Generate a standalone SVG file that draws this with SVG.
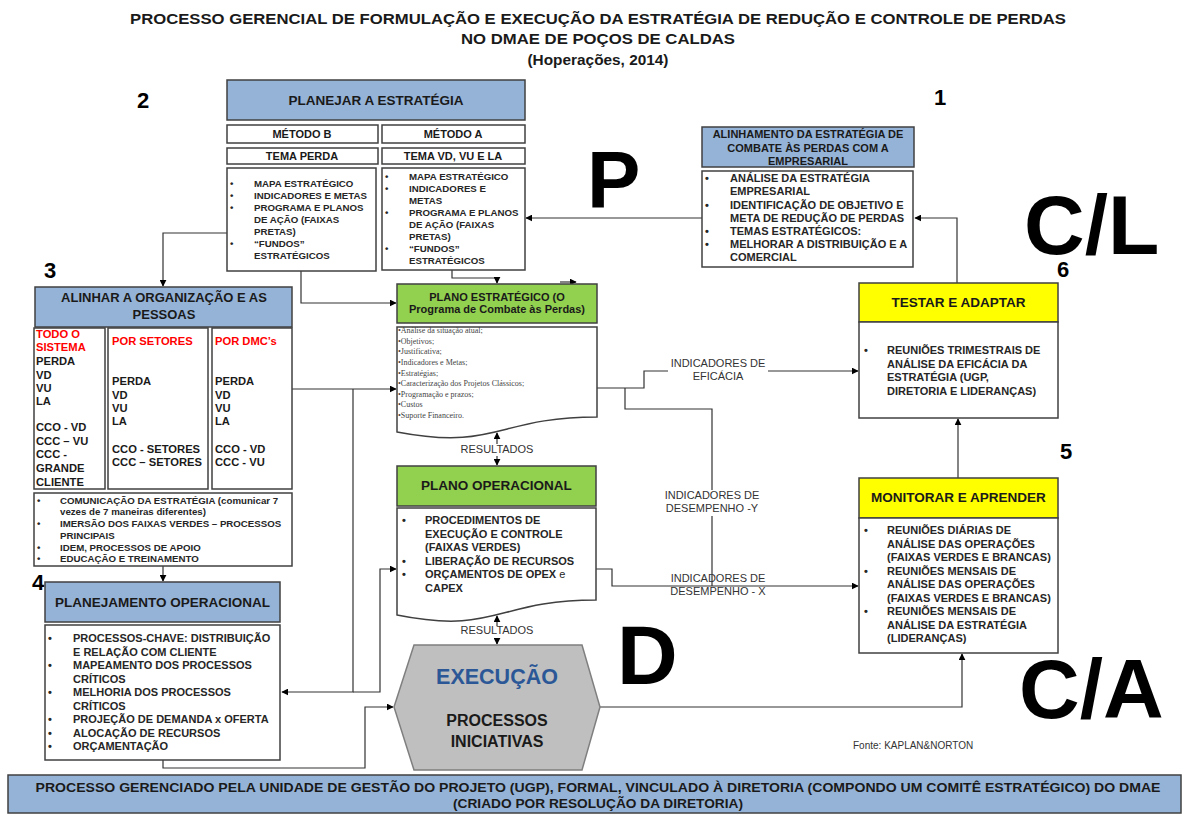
<svg xmlns="http://www.w3.org/2000/svg" width="1189" height="814" viewBox="0 0 1189 814">
<style>
.bg{fill:#ffffff}
.box{fill:#ffffff;stroke:#404040;stroke-width:1.5}
.blue{fill:#95B3D7;stroke:#404040;stroke-width:1.5}
.green{fill:#92D050;stroke:#404040;stroke-width:1.5}
.yellow{fill:#FFFF00;stroke:#404040;stroke-width:1.5}
.hex{fill:#BFBFBF;stroke:#7F7F7F;stroke-width:1.5}
text{font-family:"Liberation Sans",Arial,sans-serif}
.t{font-weight:bold;fill:#1a1a1a}
.c{text-anchor:middle}
.li{font-weight:bold;font-size:11px;fill:#262626}
.sm{font-weight:bold;font-size:9.7px;fill:#262626}
.red{fill:#FF0000}
.doc text{font-family:"Liberation Serif","Times New Roman",serif;font-size:8px;fill:#444}
.lab{font-size:11px;fill:#333;text-anchor:middle}
.big{font-weight:bold;fill:#000}
.num{font-weight:bold;font-size:22px;fill:#000;text-anchor:middle}
.conn{fill:none;stroke:#333;stroke-width:1.2}
.arr{marker-end:url(#ah)}
</style>
<defs>
<marker id="ah" viewBox="0 0 10 10" refX="9" refY="5" markerWidth="7" markerHeight="7" orient="auto" markerUnits="userSpaceOnUse">
<path d="M0,0 L10,5 L0,10 Z" fill="#000"/>
</marker>
</defs>
<rect class="bg" x="0" y="0" width="1189" height="814"/>

<g id="title">
<text class="t c" x="598" y="23.5" font-size="15" textLength="936" lengthAdjust="spacingAndGlyphs">PROCESSO GERENCIAL DE FORMULAÇÃO E EXECUÇÃO DA ESTRATÉGIA DE REDUÇÃO E CONTROLE DE PERDAS</text>
<text class="t c" x="598" y="44" font-size="15" textLength="274" lengthAdjust="spacingAndGlyphs">NO DMAE DE POÇOS DE CALDAS</text>
<text class="t c" x="598" y="64.5" font-size="15" textLength="141" lengthAdjust="spacingAndGlyphs">(Hoperações, 2014)</text>
</g>

<g id="numbers">
<text class="num" x="143" y="108">2</text>
<text class="num" x="940" y="105">1</text>
<text class="num" x="50" y="278">3</text>
<text class="num" x="38" y="590">4</text>
<text class="num" x="1066" y="459">5</text>
<text class="num" x="1063" y="277">6</text>
</g>

<g id="phases">
<text class="big" x="587" y="207" font-size="80">P</text>
<text class="big" x="1024" y="254" font-size="84">C/L</text>
<text class="big" x="617" y="684" font-size="84">D</text>
<text class="big" x="1019" y="718" font-size="84">C/A</text>
</g>

<g id="connectors">
<path class="conn arr" d="M702,218 H526"/>
<path class="conn arr" d="M957,283 V218 H915"/>
<path class="conn arr" d="M227,233 H163 V286"/>
<path class="conn arr" d="M301,271 V303 H396"/>
<path class="conn arr" d="M452,270 V278 H497 V283"/>
<path class="conn arr" d="M560,282 H576"/>
<path class="conn arr" d="M292,389 H396"/>
<path class="conn arr" d="M353,389 V692 H282"/>
<path class="conn arr" d="M353,692 H380 V569 H396"/>
<path class="conn arr" d="M163,760 V768 H365 V707 H393"/>
<path class="conn arr" d="M163,566 V581"/>
<path class="conn arr" d="M497,444 V433"/>
<path class="conn arr" d="M497,456 V465"/>
<path class="conn arr" d="M497,626 V616"/>
<path class="conn arr" d="M497,638 V644"/>
<path class="conn" d="M597,388 H644 V371 H668"/>
<path class="conn arr" d="M768,371 H858"/>
<path class="conn" d="M625,388 V409 H712 V490"/>
<path class="conn" d="M712,516 V586"/>
<path class="conn arr" d="M596,569 H612 V586 H858"/>
<path class="conn arr" d="M958,478 V419"/>
<path class="conn arr" d="M600,707 H962 V654"/>
<text class="lab" x="718" y="367">INDICADORES DE</text>
<text class="lab" x="718" y="380">EFICÁCIA</text>
<text class="lab" x="712" y="499">INDICADORES DE</text>
<text class="lab" x="712" y="512">DESEMPENHO -Y</text>
<text class="lab" x="718" y="582">INDICADORES DE</text>
<text class="lab" x="718" y="595">DESEMPENHO - X</text>
<text class="lab" x="497" y="453" font-size="10.5">RESULTADOS</text>
<text class="lab" x="497" y="634" font-size="10.5">RESULTADOS</text>
</g>

<g id="planejar">
<rect class="blue" x="227" y="80" width="298" height="40"/>
<text class="t c" x="376" y="105" font-size="13.5">PLANEJAR A ESTRATÉGIA</text>
<rect class="box" x="227" y="125" width="151" height="18"/>
<text class="t c" x="302" y="138" font-size="11">MÉTODO B</text>
<rect class="box" x="382" y="125" width="143" height="18"/>
<text class="t c" x="453" y="138" font-size="11">MÉTODO A</text>
<rect class="box" x="227" y="148" width="151" height="16"/>
<text class="t c" x="302" y="160" font-size="11">TEMA PERDA</text>
<rect class="box" x="382" y="148" width="143" height="16"/>
<text class="t c" x="453" y="160" font-size="11">TEMA VD, VU E LA</text>
</g>

<g id="metodoB-lista">
<rect class="box" x="227" y="168" width="149" height="103"/>
<g class="sm">
<text x="230" y="187">•</text><text x="254" y="187">MAPA ESTRATÉGICO</text>
<text x="230" y="199">•</text><text x="254" y="199">INDICADORES E METAS</text>
<text x="230" y="211">•</text><text x="254" y="211">PROGRAMA E PLANOS</text>
<text x="254" y="223">DE AÇÃO (FAIXAS</text>
<text x="254" y="235">PRETAS)</text>
<text x="230" y="247">•</text><text x="254" y="247">“FUNDOS”</text>
<text x="254" y="259">ESTRATÉGICOS</text>
</g>
</g>

<g id="metodoA-lista">
<rect class="box" x="382" y="168" width="143" height="102"/>
<g class="sm">
<text x="385" y="180">•</text><text x="409" y="180">MAPA ESTRATÉGICO</text>
<text x="385" y="192">•</text><text x="409" y="192">INDICADORES E</text>
<text x="409" y="204">METAS</text>
<text x="385" y="216">•</text><text x="409" y="216">PROGRAMA E PLANOS</text>
<text x="409" y="228">DE AÇÃO (FAIXAS</text>
<text x="409" y="240">PRETAS)</text>
<text x="385" y="252">•</text><text x="409" y="252">“FUNDOS”</text>
<text x="409" y="264">ESTRATÉGICOS</text>
</g>
</g>

<g id="alinhamento">
<rect class="blue" x="702" y="127" width="212" height="40"/>
<text class="t c" x="808" y="137.5" font-size="11">ALINHAMENTO DA ESTRATÉGIA DE</text>
<text class="t c" x="808" y="152" font-size="11">COMBATE ÀS PERDAS COM A</text>
<text class="t c" x="808" y="165" font-size="11">EMPRESARIAL</text>
<rect class="box" x="702" y="171" width="211" height="96"/>
<g class="li">
<text x="705" y="182">•</text><text x="730" y="182">ANÁLISE DA ESTRATÉGIA</text>
<text x="730" y="195">EMPRESARIAL</text>
<text x="705" y="209">•</text><text x="730" y="209">IDENTIFICAÇÃO DE OBJETIVO E</text>
<text x="730" y="222">META DE REDUÇÃO DE PERDAS</text>
<text x="705" y="235">•</text><text x="730" y="235">TEMAS ESTRATÉGICOS:</text>
<text x="705" y="248">•</text><text x="730" y="248">MELHORAR A DISTRIBUIÇÃO E A</text>
<text x="730" y="261">COMERCIAL</text>
</g>
</g>

<g id="alinhar">
<rect class="blue" x="35" y="287" width="257" height="40"/>
<text class="t c" x="164" y="301.5" font-size="13">ALINHAR A ORGANIZAÇÃO E AS</text>
<text class="t c" x="164" y="318.5" font-size="13">PESSOAS</text>
<rect class="box" x="34" y="328" width="71" height="161"/>
<rect class="box" x="108" y="328" width="100" height="161"/>
<rect class="box" x="212" y="328" width="80" height="161"/>
<g class="t" font-size="11.2">
<text class="red" x="36" y="337.5">TODO O</text>
<text class="red" x="36" y="351">SISTEMA</text>
<text x="36" y="365">PERDA</text>
<text x="36" y="378.5">VD</text>
<text x="36" y="391.5">VU</text>
<text x="36" y="405">LA</text>
<text x="36" y="431">CCO - VD</text>
<text x="36" y="445">CCC – VU</text>
<text x="36" y="458">CCC -</text>
<text x="36" y="472">GRANDE</text>
<text x="36" y="486">CLIENTE</text>
<text class="red" x="112" y="345">POR SETORES</text>
<text x="112" y="385">PERDA</text>
<text x="112" y="398.5">VD</text>
<text x="112" y="412">VU</text>
<text x="112" y="425">LA</text>
<text x="112" y="452.5">CCO - SETORES</text>
<text x="112" y="466">CCC – SETORES</text>
<text class="red" x="215" y="345">POR DMC’s</text>
<text x="215" y="385">PERDA</text>
<text x="215" y="398.5">VD</text>
<text x="215" y="412">VU</text>
<text x="215" y="425">LA</text>
<text x="215" y="452.5">CCO - VD</text>
<text x="215" y="466">CCC - VU</text>
</g>
<rect class="box" x="34" y="493" width="258" height="73"/>
<g class="sm">
<text x="37" y="503.5">•</text><text x="60" y="503.5">COMUNICAÇÃO DA ESTRATÉGIA (comunicar 7</text>
<text x="60" y="514.5">vezes de 7 maneiras diferentes)</text>
<text x="37" y="526.5">•</text><text x="60" y="526.5">IMERSÃO DOS FAIXAS VERDES – PROCESSOS</text>
<text x="60" y="538.5">PRINCIPAIS</text>
<text x="37" y="550.5">•</text><text x="60" y="550.5">IDEM, PROCESSOS DE APOIO</text>
<text x="37" y="561.5">•</text><text x="60" y="561.5">EDUCAÇÃO E TREINAMENTO</text>
</g>
</g>

<g id="planejamento-operacional">
<rect class="blue" x="45" y="582" width="235" height="40"/>
<text class="t c" x="162.5" y="606.5" font-size="13.5">PLANEJAMENTO OPERACIONAL</text>
<rect class="box" x="45" y="625" width="235" height="135"/>
<g class="li">
<text x="48" y="642">•</text><text x="73" y="642">PROCESSOS-CHAVE: DISTRIBUIÇÃO</text>
<text x="73" y="655.5">E RELAÇÃO COM CLIENTE</text>
<text x="48" y="669">•</text><text x="73" y="669">MAPEAMENTO DOS PROCESSOS</text>
<text x="73" y="682.5">CRÍTICOS</text>
<text x="48" y="696">•</text><text x="73" y="696">MELHORIA DOS PROCESSOS</text>
<text x="73" y="709.5">CRÍTICOS</text>
<text x="48" y="723">•</text><text x="73" y="723">PROJEÇÃO DE DEMANDA x OFERTA</text>
<text x="48" y="736.5">•</text><text x="73" y="736.5">ALOCAÇÃO DE RECURSOS</text>
<text x="48" y="750">•</text><text x="73" y="750">ORÇAMENTAÇÃO</text>
</g>
</g>

<g id="plano-estrategico">
<rect class="green" x="397" y="284" width="200" height="39"/>
<text class="t c" x="497" y="300.5" font-size="11">PLANO ESTRATÉGICO (O</text>
<text class="t c" x="497" y="313" font-size="11">Programa de Combate às Perdas)</text>
<path class="box" d="M397,327 H597 V417 C497,417 497,451 397,432 Z"/>
<g class="doc">
<text x="398" y="333">•Análise da situação atual;</text>
<text x="398" y="344">•Objetivos;</text>
<text x="398" y="354">•Justificativa;</text>
<text x="398" y="365">•Indicadores e Metas;</text>
<text x="398" y="376">•Estratégias;</text>
<text x="398" y="386">•Caracterização dos Projetos Clássicos;</text>
<text x="398" y="397">•Programação e prazos;</text>
<text x="398" y="407">•Custos</text>
<text x="398" y="418">•Suporte Financeiro.</text>
</g>
</g>

<g id="plano-operacional">
<rect class="green" x="397" y="466" width="199" height="40"/>
<text class="t c" x="496.5" y="490" font-size="13.5">PLANO OPERACIONAL</text>
<path class="box" d="M397,508 H596 V600 C496,600 496,635 397,615 Z"/>
<g class="li">
<text x="402" y="524">•</text><text x="425" y="524">PROCEDIMENTOS DE</text>
<text x="425" y="537.5">EXECUÇÃO E CONTROLE</text>
<text x="425" y="551">(FAIXAS VERDES)</text>
<text x="402" y="564.5">•</text><text x="425" y="564.5">LIBERAÇÃO DE RECURSOS</text>
<text x="402" y="578">•</text><text x="425" y="578">ORÇAMENTOS DE OPEX <tspan font-weight="normal">e</tspan></text>
<text x="425" y="591.5">CAPEX</text>
</g>
</g>

<g id="execucao">
<polygon class="hex" points="414,645 582,645 600,707 582,770 414,770 394,707"/>
<text class="t c" x="497" y="684" font-size="21.5" style="fill:#2B5797">EXECUÇÃO</text>
<text class="t c" x="497" y="726" font-size="16">PROCESSOS</text>
<text class="t c" x="497" y="747" font-size="16">INICIATIVAS</text>
</g>

<g id="testar">
<rect class="yellow" x="859" y="283" width="199" height="39"/>
<text class="t c" x="958.5" y="307" font-size="13.5">TESTAR E ADAPTAR</text>
<rect class="box" x="859" y="322" width="199" height="96"/>
<g class="li">
<text x="864" y="354">•</text><text x="887" y="354">REUNIÕES TRIMESTRAIS DE</text>
<text x="887" y="367.5">ANÁLISE DA EFICÁCIA DA</text>
<text x="887" y="381">ESTRATÉGIA (UGP,</text>
<text x="887" y="394.5">DIRETORIA E LIDERANÇAS)</text>
</g>
</g>

<g id="monitorar">
<rect class="yellow" x="859" y="478" width="199" height="40"/>
<text class="t c" x="958.5" y="502" font-size="13.5">MONITORAR E APRENDER</text>
<rect class="box" x="859" y="518" width="199" height="135"/>
<g class="li">
<text x="864" y="534">•</text><text x="887" y="534">REUNIÕES DIÁRIAS DE</text>
<text x="887" y="547.5">ANÁLISE DAS OPERAÇÕES</text>
<text x="887" y="561">(FAIXAS VERDES E BRANCAS)</text>
<text x="864" y="574.5">•</text><text x="887" y="574.5">REUNIÕES MENSAIS DE</text>
<text x="887" y="588">ANÁLISE DAS OPERAÇÕES</text>
<text x="887" y="601.5">(FAIXAS VERDES E BRANCAS)</text>
<text x="864" y="615">•</text><text x="887" y="615">REUNIÕES MENSAIS DE</text>
<text x="887" y="628.5">ANÁLISE DA ESTRATÉGIA</text>
<text x="887" y="642">(LIDERANÇAS)</text>
</g>
</g>

<g id="fonte">
<text x="853" y="749" font-size="10" fill="#333">Fonte: KAPLAN&amp;NORTON</text>
</g>

<g id="rodape">
<rect class="blue" x="8" y="775" width="1173" height="38"/>
<text class="t c" x="598" y="792" font-size="13" textLength="1125" lengthAdjust="spacingAndGlyphs">PROCESSO GERENCIADO PELA UNIDADE DE GESTÃO DO PROJETO (UGP), FORMAL, VINCULADO À DIRETORIA (COMPONDO UM COMITÊ ESTRATÉGICO) DO DMAE</text>
<text class="t c" x="598" y="808" font-size="13" textLength="290" lengthAdjust="spacingAndGlyphs">(CRIADO POR RESOLUÇÃO DA DIRETORIA)</text>
</g>
</svg>
